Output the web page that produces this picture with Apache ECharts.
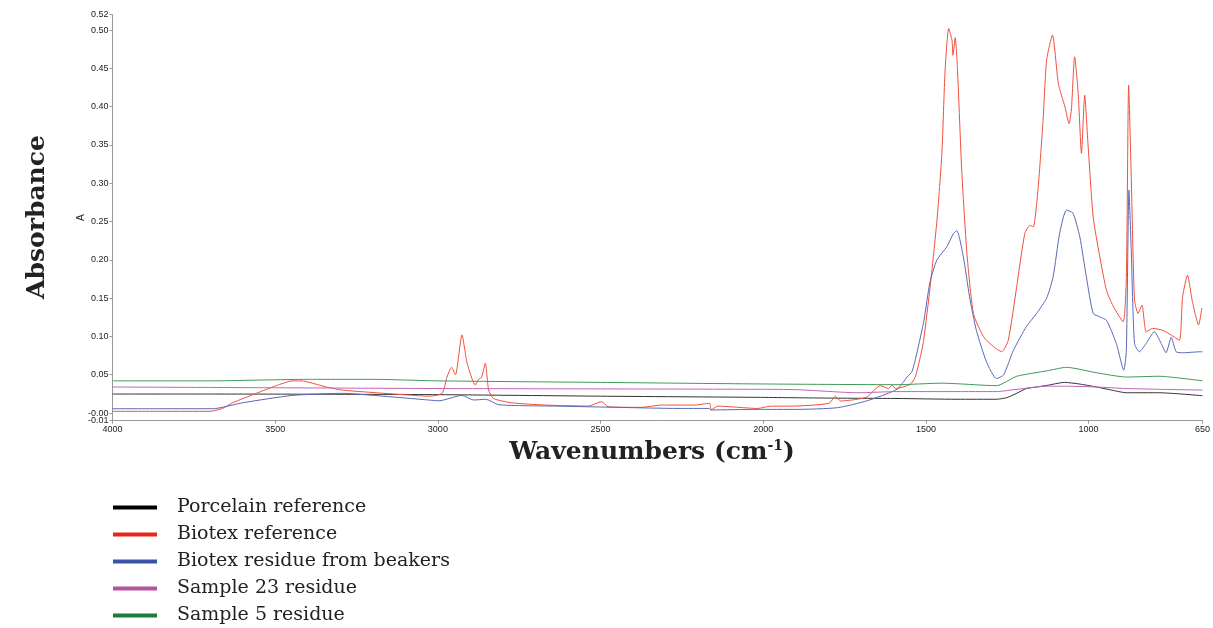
<!DOCTYPE html>
<html>
<head>
<meta charset="utf-8">
<script src="https://cdn.jsdelivr.net/npm/echarts@6/dist/echarts.min.js"></script>
<style>
html,body{margin:0;padding:0;background:#fff;}
#chart{width:1213px;height:628px;}
</style>
</head>
<body>
<div id="chart"></div>
<script>
// ---- data (wavenumber cm-1, absorbance) ----
const seriesNames = ['Porcelain reference','Biotex reference','Biotex residue from beakers','Sample 23 residue','Sample 5 residue'];
const xTicks = [4000,3500,3000,2500,2000,1500,1000,650];
const yTicks = [-0.01,0.05,0.10,0.15,0.20,0.25,0.30,0.35,0.40,0.45,0.50,0.52];
const yZeroTick = [0];

const porcelain = [[4000,0.0248],[3700,0.0248],[3400,0.0246],[3000,0.024],[2500,0.022],[2017,0.0205],[1800,0.0195],[1589,0.019],[1405,0.018],[1283,0.018],[1252,0.020],[1220,0.026],[1191,0.032],[1160,0.034],[1129,0.036],[1074,0.040],[1030,0.038],[976,0.034],[930,0.030],[884,0.0265],[783,0.0265],[720,0.025],[650,0.0226]];

const biotexRef = [[4000,0.0022],[3850,0.0022],[3701,0.0022],[3662,0.006],[3631,0.0134],[3558,0.0257],[3497,0.0357],[3447,0.042],[3420,0.042],[3343,0.034],[3294,0.030],[3190,0.0265],[3089,0.0235],[3028,0.022],[2987,0.0257],[2972,0.047],[2958,0.0597],[2946,0.050],[2926,0.102],[2910,0.065],[2885,0.0366],[2875,0.044],[2866,0.0466],[2854,0.065],[2844,0.030],[2829,0.019],[2773,0.0134],[2670,0.0104],[2538,0.0091],[2497,0.0148],[2477,0.0082],[2375,0.0074],[2313,0.0104],[2211,0.0104],[2165,0.0127],[2160,0.004],[2140,0.009],[2017,0.006],[1977,0.009],[1915,0.009],[1798,0.0127],[1778,0.022],[1762,0.0157],[1711,0.018],[1681,0.021],[1640,0.0357],[1615,0.032],[1604,0.0366],[1594,0.032],[1548,0.0375],[1533,0.047],[1517,0.0735],[1507,0.095],[1487,0.165],[1466,0.252],[1451,0.339],[1441,0.448],[1430,0.502],[1420,0.487],[1417,0.467],[1410,0.490],[1403,0.448],[1390,0.317],[1374,0.2085],[1354,0.130],[1323,0.0996],[1292,0.0866],[1267,0.080],[1247,0.095],[1221,0.165],[1196,0.2346],[1180,0.245],[1170,0.243],[1155,0.295],[1140,0.382],[1129,0.461],[1111,0.4935],[1093,0.430],[1073,0.400],[1060,0.378],[1053,0.3956],[1043,0.465],[1032,0.417],[1022,0.339],[1012,0.415],[1002,0.352],[986,0.256],[966,0.205],[945,0.160],[925,0.140],[894,0.119],[884,0.178],[877,0.428],[869,0.3085],[859,0.1475],[848,0.130],[836,0.141],[823,0.106],[803,0.1105],[772,0.108],[747,0.102],[721,0.095],[711,0.152],[696,0.180],[682,0.1475],[662,0.115],[652,0.137]];

const biotexResidue = [[4000,0.0056],[3850,0.0056],[3692,0.0056],[3600,0.0134],[3447,0.023],[3294,0.0257],[3141,0.021],[3028,0.017],[2997,0.016],[2926,0.023],[2890,0.017],[2853,0.018],[2813,0.0108],[2630,0.009],[2446,0.0074],[2262,0.006],[2167,0.006],[2161,0.004],[2017,0.0048],[1895,0.0048],[1772,0.007],[1681,0.016],[1589,0.031],[1558,0.047],[1543,0.054],[1528,0.078],[1506,0.121],[1488,0.170],[1466,0.200],[1436,0.217],[1415,0.2346],[1405,0.238],[1385,0.204],[1366,0.152],[1345,0.108],[1314,0.067],[1283,0.045],[1261,0.050],[1231,0.082],[1191,0.113],[1160,0.130],[1129,0.150],[1109,0.178],[1089,0.2346],[1068,0.265],[1048,0.261],[1027,0.230],[1007,0.178],[986,0.130],[966,0.1257],[945,0.121],[915,0.091],[892,0.056],[884,0.082],[876,0.291],[869,0.213],[859,0.091],[844,0.080],[823,0.091],[798,0.106],[777,0.091],[762,0.0787],[746,0.0988],[731,0.080],[711,0.0787],[655,0.080],[650,0.080]];

const sample23 = [[4000,0.034],[3500,0.033],[3000,0.032],[2500,0.0315],[2017,0.031],[1895,0.0305],[1711,0.0265],[1589,0.028],[1283,0.028],[1220,0.031],[1129,0.035],[1068,0.035],[976,0.034],[884,0.032],[783,0.031],[650,0.030]];

const sample5 = [[4000,0.042],[3700,0.042],[3400,0.044],[3200,0.044],[3000,0.042],[2500,0.040],[2017,0.038],[1589,0.037],[1450,0.039],[1283,0.0357],[1221,0.048],[1129,0.055],[1068,0.0597],[976,0.0526],[884,0.047],[783,0.048],[650,0.042]];

const lineColors = ['#333333','#f0503c','#5a68b8','#c064bc','#3e9a58'];
const legendColors = ['#000000','#e8261f','#3a53a4','#b4539f','#1d7d3c'];
const allData = [porcelain, biotexRef, biotexResidue, sample23, sample5];

const labelFmt = function (v) { return Math.abs(v) < 1e-9 ? '-0.00' : v.toFixed(2); };
const tickLabelStyle = {fontSize: 9, color: '#222', fontFamily: 'Liberation Sans', margin: 4};

const chart = echarts.init(document.getElementById('chart'));
const option = {
  animation: false,
  backgroundColor: '#ffffff',
  grid: {left: 112.5, right: 6.5, top: 14.7, bottom: 207.3},
  xAxis: {
    type: 'value', min: 650, max: 4000, inverse: true,
    axisLine: {show: true, onZero: false, lineStyle: {color: '#999', width: 1}},
    axisTick: {show: true, length: 3, lineStyle: {color: '#999'}, customValues: xTicks},
    axisLabel: Object.assign({customValues: xTicks, showMinLabel: true, showMaxLabel: true,
      formatter: function (v) { return String(v); }}, tickLabelStyle),
    splitLine: {show: false}
  },
  yAxis: [{
    type: 'value', min: -0.01, max: 0.52, position: 'left',
    name: 'A', nameLocation: 'middle', nameGap: 26, nameRotate: 90, nameMoveOverlap: false,
    nameTextStyle: {fontSize: 10, color: '#222', fontFamily: 'Liberation Sans'},
    axisLine: {show: true, onZero: false, lineStyle: {color: '#999', width: 1}},
    axisTick: {show: true, length: 3, lineStyle: {color: '#999'}, customValues: yTicks},
    axisLabel: Object.assign({customValues: yTicks, showMinLabel: true, showMaxLabel: true, formatter: labelFmt}, tickLabelStyle),
    splitLine: {show: false}
  }, {
    type: 'value', min: -0.01, max: 0.52, position: 'left', offset: 0,
    axisLine: {show: false, onZero: false},
    axisTick: {show: true, length: 3, lineStyle: {color: '#999'}, customValues: yZeroTick},
    axisLabel: Object.assign({customValues: yZeroTick, showMinLabel: true, showMaxLabel: true, formatter: labelFmt}, tickLabelStyle),
    splitLine: {show: false}
  }],
  legend: {
    orient: 'vertical', left: 113, top: 498, padding: 0, itemWidth: 44, itemHeight: 4, itemGap: 8,
    icon: 'rect', height: 300,
    textStyle: {fontFamily: 'DejaVu Serif', fontSize: 19, color: '#222', padding: [0,0,0,15]},
    data: seriesNames.map((n, i) => ({name: n, itemStyle: {color: legendColors[i]}}))
  },
  graphic: [
    {type: 'text', x: 37, y: 217, rotation: Math.PI / 2,
     style: {text: 'Absorbance', font: 'bold 25px "DejaVu Serif"', fill: '#222', align: 'center', verticalAlign: 'middle'}},
    {type: 'text', x: 652, y: 452,
     style: {text: '{a|Wavenumbers (cm}{s|-1}{a|)}', align: 'center', verticalAlign: 'middle', fill: '#222',
       rich: {a: {font: 'bold 25px "DejaVu Serif"', fill: '#222'}, s: {font: 'bold 14px "DejaVu Serif"', fill: '#222', verticalAlign: 'top', padding: [0,0,12,0]}}}}
  ],
  series: allData.map((d, i) => ({
    name: seriesNames[i], type: 'line', data: d, showSymbol: false, smooth: 0.2, yAxisIndex: 0,
    lineStyle: {color: lineColors[i], width: 1}, itemStyle: {color: lineColors[i]}
  }))
};
chart.setOption(option);
</script>
</body>
</html>
